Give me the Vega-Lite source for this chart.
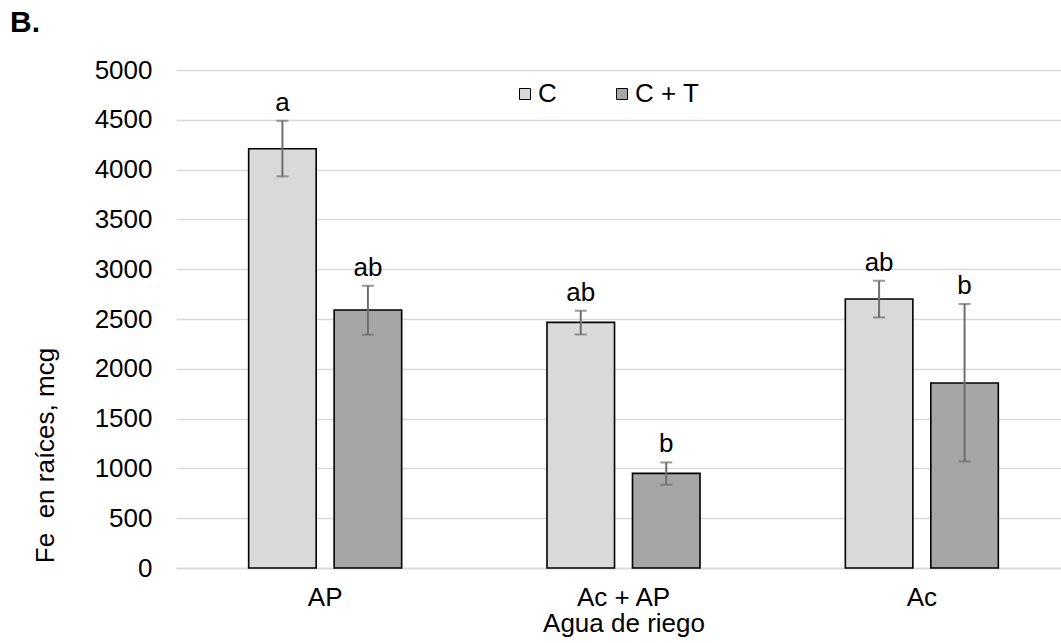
{
  "$schema": "https://vega.github.io/schema/vega-lite/v6.json",
  "autosize": {"type": "none"},
  "padding": {"left": 176, "top": 70, "right": 0, "bottom": 75},
  "width": 885,
  "height": 498,
  "background": "white",
  "title": {
    "text": "B.",
    "anchor": "start",
    "frame": "group",
    "orient": "top",
    "font": "Liberation Sans",
    "fontSize": 30,
    "fontWeight": "bold",
    "color": "black",
    "dx": -166,
    "offset": 19
  },
  "config": {
    "view": {"stroke": null},
    "font": "Liberation Sans",
    "axis": {"labelFont": "Liberation Sans", "titleFont": "Liberation Sans", "labelColor": "black", "titleColor": "black", "titleFontWeight": "normal"}
  },
  "data": {
    "values": [
      {"agua": "AP", "trat": "C", "value": 4210, "lo": 3932, "hi": 4490, "letra": "a"},
      {"agua": "AP", "trat": "C + T", "value": 2590, "lo": 2342, "hi": 2834, "letra": "ab"},
      {"agua": "Ac + AP", "trat": "C", "value": 2466, "lo": 2345, "hi": 2583, "letra": "ab"},
      {"agua": "Ac + AP", "trat": "C + T", "value": 950, "lo": 836, "hi": 1060, "letra": "b"},
      {"agua": "Ac", "trat": "C", "value": 2701, "lo": 2516, "hi": 2884, "letra": "ab"},
      {"agua": "Ac", "trat": "C + T", "value": 1857, "lo": 1070, "hi": 2651, "letra": "b"}
    ]
  },
  "encoding": {
    "x": {
      "field": "agua",
      "type": "nominal",
      "sort": ["AP", "Ac + AP", "Ac"],
      "scale": {"range": [0, 895], "paddingInner": 0, "paddingOuter": 0},
      "axis": {
        "title": "Agua de riego",
        "labelAngle": 0,
        "labelFontSize": 26,
        "labelPadding": 16,
        "ticks": false,
        "domainColor": "#d9d9d9",
        "domainWidth": 1.5,
        "titleFontSize": 26,
        "titleBaseline": "alphabetic",
        "titleAlign": "center",
        "titleX": 447.5,
        "titleY": 63
      }
    },
    "xOffset": {
      "field": "trat",
      "type": "nominal",
      "sort": ["C", "C + T"],
      "scale": {"range": [0, 298.33], "paddingInner": 0.21, "paddingOuter": 0.85}
    }
  },
  "layer": [
    {
      "mark": {"type": "bar", "stroke": "black", "strokeWidth": 1.6},
      "encoding": {
        "y": {
          "field": "value",
          "type": "quantitative",
          "scale": {"domain": [0, 5000], "nice": false},
          "axis": {
            "title": "Fe\u00a0 en raíces, mcg",
            "values": [0, 500, 1000, 1500, 2000, 2500, 3000, 3500, 4000, 4500, 5000],
            "format": "d",
            "labelFontSize": 26,
            "labelPadding": 24,
            "ticks": false,
            "domain": false,
            "gridColor": "#d9d9d9",
            "gridWidth": 1.5,
            "titleFontSize": 26,
            "titleAngle": -90,
            "titleAlign": "center",
            "titleBaseline": "alphabetic",
            "titleX": -123,
            "titleY": 385
          }
        },
        "fill": {
          "field": "trat",
          "type": "nominal",
          "sort": ["C", "C + T"],
          "scale": {"range": ["#d9d9d9", "#a6a6a6"]},
          "legend": {
            "title": null,
            "orient": "none",
            "direction": "horizontal",
            "legendX": 336,
            "legendY": 11,
            "symbolType": "square",
            "symbolSize": 121,
            "symbolStrokeColor": "black",
            "symbolStrokeWidth": 1,
            "labelFont": "Liberation Sans",
            "labelFontSize": 26,
            "labelColor": "black",
            "labelOffset": 0,
            "columnPadding": 52
          }
        }
      }
    },
    {
      "mark": {"type": "rule", "color": "#6e6e6e", "strokeWidth": 2},
      "encoding": {
        "y": {"field": "lo", "type": "quantitative"},
        "y2": {"field": "hi"}
      }
    },
    {
      "mark": {"type": "tick", "color": "#6e6e6e", "thickness": 2, "size": 12},
      "encoding": {"y": {"field": "lo", "type": "quantitative"}}
    },
    {
      "mark": {"type": "tick", "color": "#6e6e6e", "thickness": 2, "size": 12},
      "encoding": {"y": {"field": "hi", "type": "quantitative"}}
    },
    {
      "mark": {"type": "text", "font": "Liberation Sans", "fontSize": 26, "color": "black", "baseline": "alphabetic", "align": "center", "dy": -10},
      "encoding": {
        "y": {"field": "hi", "type": "quantitative"},
        "text": {"field": "letra"}
      }
    }
  ]
}
